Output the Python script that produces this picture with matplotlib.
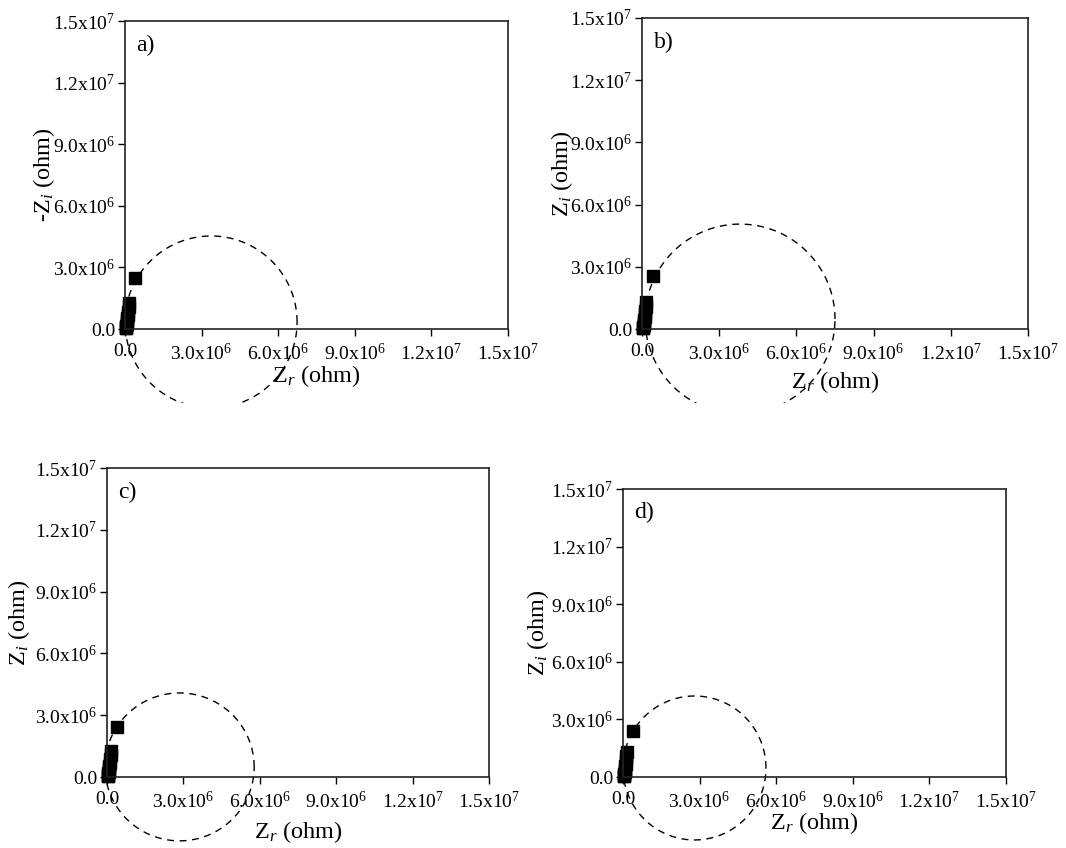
import numpy as np
import matplotlib
matplotlib.use('Agg')
import matplotlib.pyplot as plt
from matplotlib.patches import Rectangle

plt.rcParams['font.family'] = 'Liberation Serif'
plt.rcParams['mathtext.fontset'] = 'custom'
plt.rcParams['mathtext.rm'] = 'Liberation Serif'
plt.rcParams['mathtext.it'] = 'Liberation Serif:italic'

zr_a = [0.39e6, 0.16e6, 0.14e6, 0.12e6, 0.10e6, 0.09e6, 0.08e6, 0.07e6, 0.06e6, 0.05e6, 0.045e6, 0.04e6, 0.035e6]
zi_a = [2.48e6, 1.27e6, 1.05e6, 0.85e6, 0.68e6, 0.54e6, 0.42e6, 0.32e6, 0.24e6, 0.17e6, 0.11e6, 0.07e6, 0.04e6]
zr_b = [0.42e6, 0.17e6, 0.15e6, 0.13e6, 0.11e6, 0.10e6, 0.09e6, 0.08e6, 0.07e6, 0.06e6, 0.05e6, 0.045e6, 0.04e6]
zi_b = [2.55e6, 1.30e6, 1.08e6, 0.88e6, 0.70e6, 0.56e6, 0.44e6, 0.33e6, 0.25e6, 0.18e6, 0.12e6, 0.07e6, 0.04e6]
zr_c = [0.40e6, 0.16e6, 0.14e6, 0.12e6, 0.10e6, 0.09e6, 0.08e6, 0.07e6, 0.06e6, 0.05e6, 0.045e6, 0.04e6, 0.035e6]
zi_c = [2.42e6, 1.27e6, 1.05e6, 0.85e6, 0.68e6, 0.54e6, 0.42e6, 0.32e6, 0.24e6, 0.17e6, 0.11e6, 0.07e6, 0.04e6]
zr_d = [0.38e6, 0.15e6, 0.13e6, 0.11e6, 0.10e6, 0.09e6, 0.08e6, 0.07e6, 0.06e6, 0.05e6, 0.045e6, 0.04e6, 0.035e6]
zi_d = [2.42e6, 1.30e6, 1.08e6, 0.88e6, 0.70e6, 0.56e6, 0.44e6, 0.33e6, 0.25e6, 0.18e6, 0.12e6, 0.07e6, 0.04e6]

# ajuste (centro x, centro y, radio x, radio y)
fit_a = (3.37e6, 0.34e6, 3.37e6, 4.19e6)
fit_b = (3.81e6, 0.48e6, 3.69e6, 4.58e6)
fit_c = (2.85e6, 0.49e6, 2.93e6, 3.59e6)
fit_d = (2.80e6, 0.47e6, 2.80e6, 3.75e6)

ticks = [0, 3e6, 6e6, 9e6, 1.2e7, 1.5e7]
ticklabels = ['0.0', '3.0x10$^{6}$', '6.0x10$^{6}$', '9.0x10$^{6}$',
              '1.2x10$^{7}$', '1.5x10$^{7}$']
letras = ['a)', 'b)', 'c)', 'd)']
ylabels = ['-Z$_{i}$ (ohm)', 'Z$_{i}$ (ohm)', 'Z$_{i}$ (ohm)', 'Z$_{i}$ (ohm)']
xlabel = 'Z$_{r}$ (ohm)'

W, H = 1066, 848
fig = plt.figure(figsize=(W / 100, H / 100), dpi=100)

# cajas en pixeles: izq, arriba, der, abajo
cajas = [(125, 21, 508, 329), (642, 18, 1028, 329),
         (107, 468, 489, 777), (623, 489, 1006, 777)]
ylab_off = [68, 67, 75, 72]
xlab_off = [34, 40, 42, 33]
clip_y = [403, 403, None, None]

datos = [(zr_a, zi_a, fit_a), (zr_b, zi_b, fit_b),
         (zr_c, zi_c, fit_c), (zr_d, zi_d, fit_d)]

for i, (zr, zi, fit) in enumerate(datos):
    l, t, r, b = cajas[i]
    ax = fig.add_axes([l / W, (H - b) / H, (r - l) / W, (b - t) / H])
    ax.set_xlim(0, 1.5e7)
    ax.set_ylim(0, 1.5e7)
    ax.set_xticks(ticks)
    ax.set_xticklabels(ticklabels, fontsize=14)
    ax.set_yticks(ticks)
    ax.set_yticklabels(ticklabels, fontsize=14)
    ax.tick_params(direction='out', length=5, width=1, pad=2)
    ax.tick_params(axis='x', pad=5)
    for s in ax.spines.values():
        s.set_linewidth(1.2)
        s.set_color('#222222')

    cx, cy, rx, ry = fit
    th = np.linspace(0, 2 * np.pi, 400)
    linea, = ax.plot(cx + rx * np.cos(th), cy + ry * np.sin(th), color='black',
                     lw=1, linestyle=(0, (5, 4)), clip_on=False)
    if clip_y[i] is not None:
        rect = Rectangle((0, (H - clip_y[i]) / H), 1, 1, transform=fig.transFigure)
        linea.set_clip_path(rect)
        linea.set_clip_on(True)

    ax.plot(zr[1:], zi[1:], 's', color='black', markersize=8.5, clip_on=False)
    ax.plot(zr[:1], zi[:1], 's', color='black', markersize=9, clip_on=False)

    ax.text(0.03, 0.92, letras[i], transform=ax.transAxes, fontsize=17,
            va='center', ha='left')
    ax.set_ylabel(ylabels[i], fontsize=17.5)
    ax.yaxis.set_label_coords(-ylab_off[i] / (r - l), 0.5)
    ax.set_xlabel(xlabel, fontsize=17.5)
    ax.xaxis.set_label_coords(0.5, -xlab_off[i] / (b - t))

plt.savefig('out.png', dpi=100)
